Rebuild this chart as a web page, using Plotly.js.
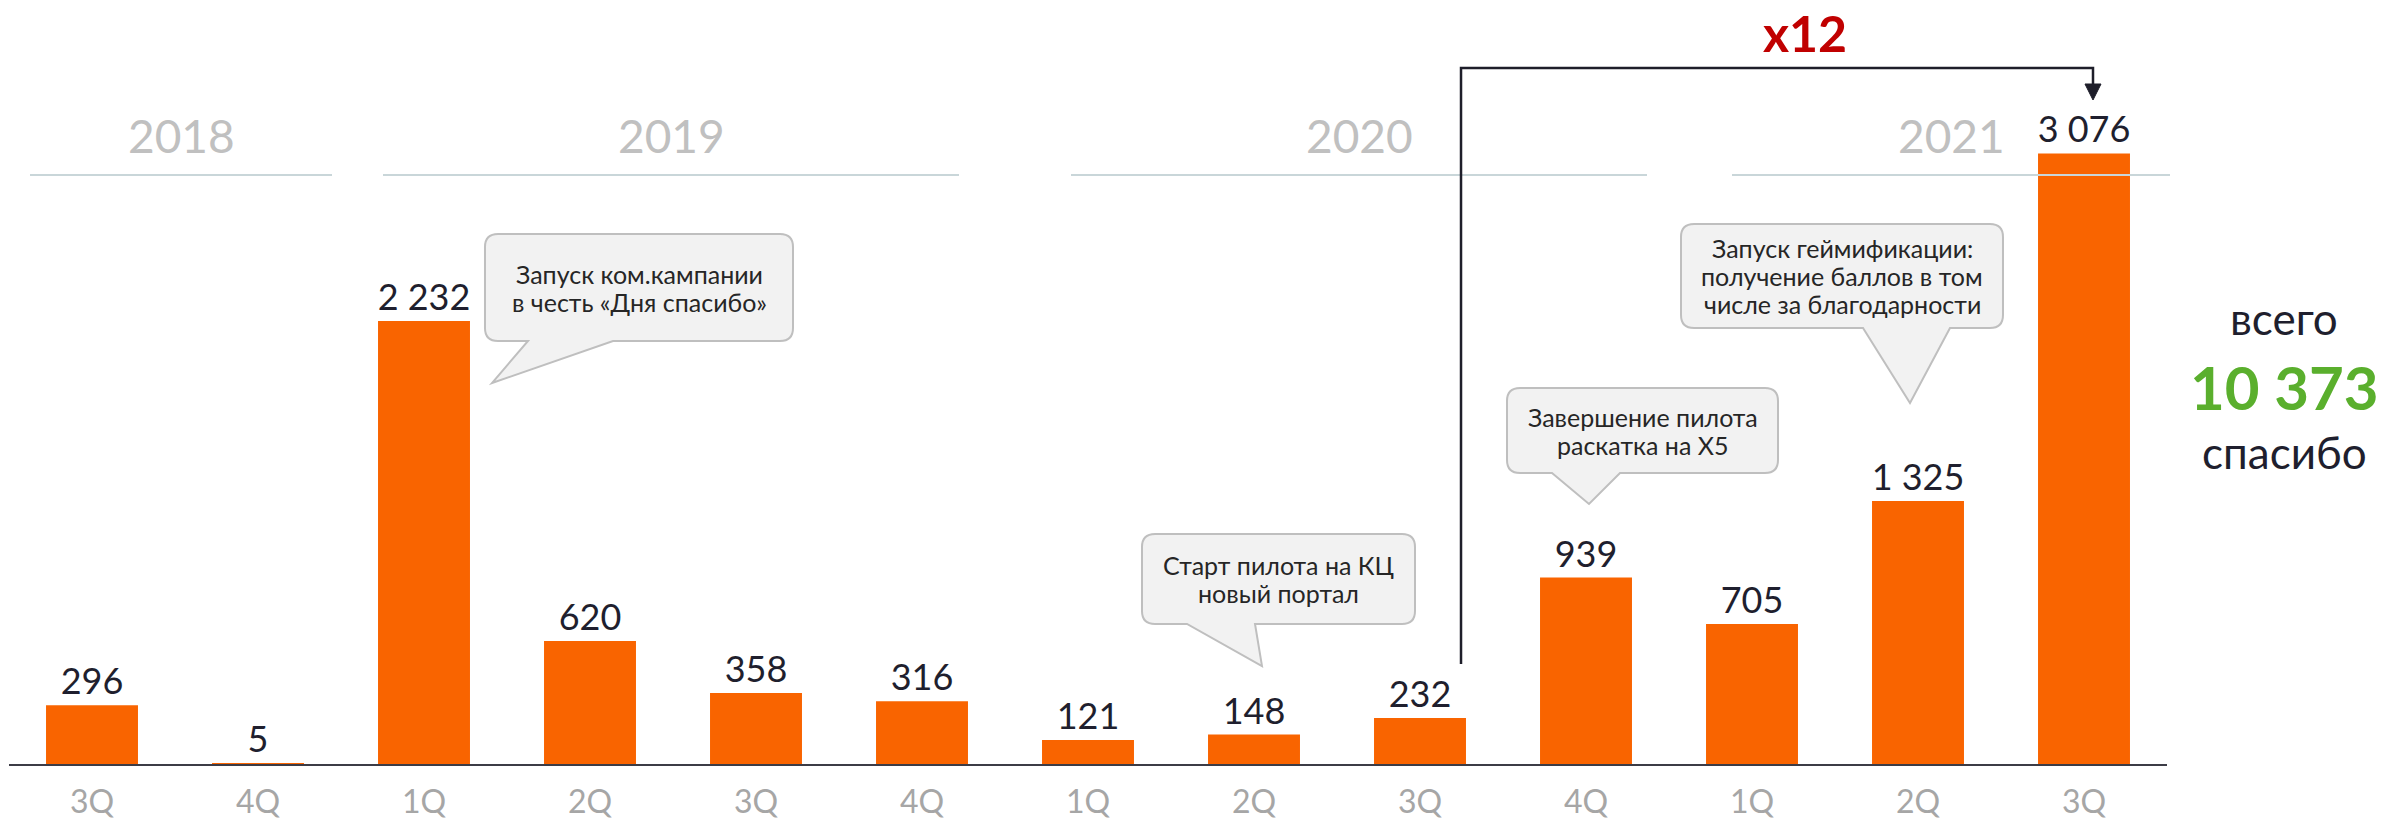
<!DOCTYPE html>
<html><head><meta charset="utf-8">
<script src="https://cdn.plot.ly/plotly-3.0.1.min.js"></script>
<style>html,body{margin:0;padding:0;background:#fff}#chart{width:2382px;height:821px}</style>
</head><body><div id="chart"></div>
<script>
// ---- data ----
const quarters = ['3Q','4Q','1Q','2Q','3Q','4Q','1Q','2Q','3Q','4Q','1Q','2Q','3Q'];
const years    = ['2018','2018','2019','2019','2019','2019','2020','2020','2020','2020','2021','2021','2021'];
const values   = [296, 5, 2232, 620, 358, 316, 121, 148, 232, 939, 705, 1325, 3076];
const yearLabels = ['2018','2019','2020','2021'];
const callout1 = ['Запуск ком.кампании', 'в честь «Дня спасибо»'];
const callout2 = ['Старт пилота на КЦ', 'новый портал'];
const callout3 = ['Завершение пилота', 'раскатка на Х5'];
const callout4 = ['Запуск геймификации:', 'получение баллов в том', 'числе за благодарности'];
const growthLabel = 'x12';
const totalWords = ['всего', 'спасибо'];

const categories = quarters.map((q,i)=> q + ' ' + years[i]);
const total = values.reduce((a,b)=>a+b,0);
const totalText = String(total).replace(/\B(?=(\d{3})+(?!\d))/g,' ');

// ---- geometry helpers (pixel -> paper) ----
const W=2382, H=821, ML=9, MR=215, MT=0, MB=57;
const PW=W-ML-MR, PH=H-MT-MB;
const px = x => (x-ML)/PW;
const py = y => (H-MB-y)/PH;
const P = (x,y) => px(x).toFixed(5)+','+py(y).toFixed(5);

const FONT = 'Lato, "Open Sans", sans-serif';
const shapes = [];
const annotations = [];

// year lines + labels
const yearSpans = [[30,332],[383,959],[1071,1647],[1732,2170]];
yearSpans.forEach((s,i)=>{
  shapes.push({type:'line', xref:'paper', yref:'paper', x0:px(s[0]), x1:px(s[1]), y0:py(175), y1:py(175),
    line:{color:'#c9d6d9', width:2}});
  annotations.push({xref:'paper', yref:'paper', x:px((s[0]+s[1])/2), y:py(135), text:yearLabels[i],
    showarrow:false, xanchor:'center', yanchor:'middle', font:{family:FONT, size:46, color:'#c0c0c0'}});
});

// callouts
function callout(lines, Lx, Ty, Rx, By, b1, b2, tx, ty){
  const r=13;
  const d = 'M'+P(Lx+r,Ty)+' L'+P(Rx-r,Ty)+' Q'+P(Rx,Ty)+' '+P(Rx,Ty+r)+
    ' L'+P(Rx,By-r)+' Q'+P(Rx,By)+' '+P(Rx-r,By)+
    ' L'+P(b2,By)+' L'+P(tx,ty)+' L'+P(b1,By)+
    ' L'+P(Lx+r,By)+' Q'+P(Lx,By)+' '+P(Lx,By-r)+
    ' L'+P(Lx,Ty+r)+' Q'+P(Lx,Ty)+' '+P(Lx+r,Ty)+' Z';
  shapes.push({type:'path', xref:'paper', yref:'paper', path:d, fillcolor:'#f2f2f2', line:{color:'#bfbfbf', width:2}, layer:'above'});
  const cx=(Lx+Rx)/2, cy=(Ty+By)/2, sp=28;
  lines.forEach((t,i)=>{
    annotations.push({xref:'paper', yref:'paper', x:px(cx), y:py(cy + (i-(lines.length-1)/2)*sp), text:t,
      showarrow:false, xanchor:'center', yanchor:'middle', font:{family:FONT, size:25, color:'#262626'}});
  });
}
callout(callout1, 485,234,793,341, 528,613, 492,383);
callout(callout2, 1142,534,1415,624, 1187,1255, 1262,666);
callout(callout3, 1507,388,1778,473, 1552,1620, 1589,504);
callout(callout4, 1681,224,2003,328, 1863,1950, 1910,403);

// growth bracket
shapes.push({type:'path', xref:'paper', yref:'paper',
  path:'M'+P(1461,664)+' L'+P(1461,68)+' L'+P(2093,68)+' L'+P(2093,88),
  line:{color:'#1e1e2a', width:2.5}});
shapes.push({type:'path', xref:'paper', yref:'paper',
  path:'M'+P(2085,84)+' L'+P(2101,84)+' L'+P(2093,100)+' Z',
  fillcolor:'#1e1e2a', line:{color:'#1e1e2a', width:1}});
annotations.push({xref:'paper', yref:'paper', x:px(1805), y:py(33), text:'<b>'+growthLabel+'</b>',
  showarrow:false, xanchor:'center', yanchor:'middle', font:{family:FONT, size:50, color:'#c00000'}});

// total block
annotations.push({xref:'paper', yref:'paper', x:px(2284), y:py(318), text:totalWords[0],
  showarrow:false, xanchor:'center', yanchor:'middle', font:{family:FONT, size:44, color:'#1f1f2e'}});
annotations.push({xref:'paper', yref:'paper', x:px(2284), y:py(387), text:'<b>'+totalText+'</b>',
  showarrow:false, xanchor:'center', yanchor:'middle', font:{family:FONT, size:60, color:'#5aaf2d'}});
annotations.push({xref:'paper', yref:'paper', x:px(2284), y:py(452), text:totalWords[1],
  showarrow:false, xanchor:'center', yanchor:'middle', font:{family:FONT, size:44, color:'#1f1f2e'}});

const trace = {
  type:'bar', x:categories, y:values,
  marker:{color:'#f96400'},
  texttemplate:'%{y:,}', textposition:'outside', cliponaxis:false, constraintext:'none',
  textfont:{family:FONT, size:36, color:'#1f1f2e'},
  hoverinfo:'skip'
};

const layout = {
  width:W, height:H,
  margin:{l:ML, r:MR, t:MT, b:MB, pad:0},
  paper_bgcolor:'#ffffff', plot_bgcolor:'#ffffff',
  separators:', ',
  bargap:0.446,
  showlegend:false,
  xaxis:{type:'category', range:[-0.5,12.5], tickvals:categories, ticktext:quarters,
    showline:true, linecolor:'#3c3c46', linewidth:2, ticks:'', showgrid:false, zeroline:false,
    tickfont:{family:FONT, size:32, color:'#a6a6a6'}, ticklabelstandoff:9, fixedrange:true},
  yaxis:{visible:false, range:[0, 764/0.1985], fixedrange:true},
  shapes:shapes, annotations:annotations
};

Plotly.newPlot('chart', [trace], layout, {displayModeBar:false, staticPlot:true});
</script>
</body></html>
